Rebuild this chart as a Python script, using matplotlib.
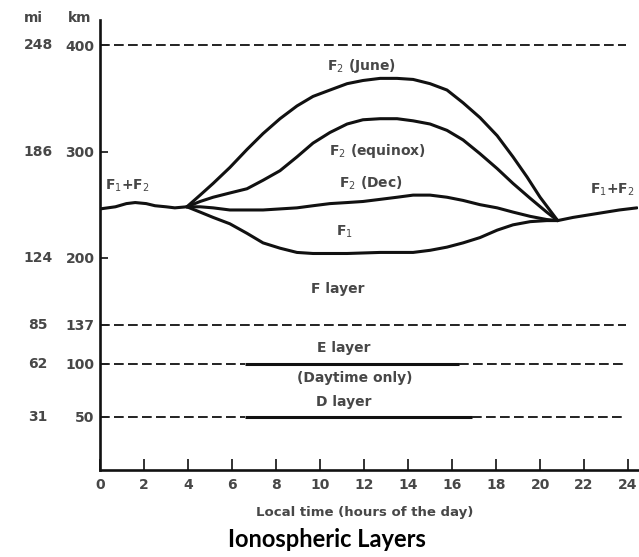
import matplotlib
matplotlib.use('Agg')
import matplotlib.pyplot as plt
from matplotlib.transforms import blended_transform_factory

# local time (hours) and height (km)
june_h = [3.95, 4.55, 5.14, 5.9, 6.68, 7.41, 8.18, 8.95, 9.68, 10.45, 11.23, 11.95,
          12.73, 13.5, 14.23, 15.0, 15.77, 16.5, 17.27, 18.05, 18.77, 19.41, 20.0, 20.8]
june_km = [248, 259, 270, 285, 302, 317, 331, 343, 352, 358, 364, 367,
           369, 369, 368, 364, 358, 346, 332, 315, 295, 276, 257, 235]

equinox_h = [3.95, 4.55, 5.14, 5.9, 6.68, 7.41, 8.18, 8.95, 9.68, 10.45, 11.23, 11.95,
             12.73, 13.5, 14.23, 15.0, 15.77, 16.5, 17.27, 18.05, 18.77, 19.55, 20.3, 20.8]
equinox_km = [248, 253, 257, 261, 265, 273, 282, 295, 308, 318, 326, 330,
              331, 331, 329, 326, 320, 311, 298, 284, 270, 256, 243, 235]

dec_h = [3.95, 4.55, 5.14, 5.9, 6.68, 7.41, 8.18, 8.95, 9.68, 10.45, 11.23, 11.95,
         12.73, 13.5, 14.23, 15.0, 15.77, 16.5, 17.27, 18.05, 18.77, 19.55, 20.3, 20.8]
dec_km = [248, 248, 247, 245, 245, 245, 246, 247, 249, 251, 252, 253,
          255, 257, 259, 259, 257, 254, 250, 247, 243, 239, 236, 235]

f1_h = [3.95, 4.55, 5.14, 5.9, 6.68, 7.41, 8.18, 8.95, 9.68, 11.23, 12.73, 14.23,
        15.0, 15.77, 16.5, 17.27, 18.05, 18.77, 19.55, 20.3, 20.8]
f1_km = [248, 243, 238, 232, 223, 214, 209, 205, 204, 204, 205, 205,
         207, 210, 214, 219, 226, 231, 234, 235, 235]

night_left_h = [0, 0.7, 1.2, 1.6, 2.1, 2.5, 3.0, 3.4, 3.95]
night_left_km = [246, 248, 251, 252, 251, 249, 248, 247, 248]
night_right_h = [20.8, 21.5, 22.7, 23.6, 24.4]
night_right_km = [235, 238, 242, 245, 247]

km_ticks = [400, 300, 200, 137, 100, 50]
mi_labels = ['248', '186', '124', '85', '62', '31']
hour_ticks = [0, 2, 4, 6, 8, 10, 12, 14, 16, 18, 20, 22, 24]

# E and D layer boundaries: daytime (solid) span
e_km, e_day = 100, (6.6, 16.3)
d_km, d_day = 50, (6.6, 16.9)

txt = '#474747'

fig = plt.figure(figsize=(6.39, 5.57), dpi=100)
ax = fig.add_axes([100 / 639, 87 / 557, 538 / 639, 450 / 557])
ax.set_xlim(0, 24.45)
ax.set_ylim(0, 424)

for s in ['top', 'right']:
    ax.spines[s].set_visible(False)
for s in ['left', 'bottom']:
    ax.spines[s].set_linewidth(1.9)
    ax.spines[s].set_color('#111')

dash = (0, (5, 2.2))
ax.hlines([400, 137], 0, 23.9, colors='#222', lw=1.4, linestyle=dash)
for km, (a, b) in [(e_km, e_day), (d_km, d_day)]:
    ax.hlines(km, 0, a, colors='#222', lw=1.4, linestyle=dash)
    ax.hlines(km, a, b, colors='#111', lw=2.2)
    ax.hlines(km, b, 23.9, colors='#222', lw=1.4, linestyle=dash)

curve = dict(color='#111', lw=2.2, solid_joinstyle='round', solid_capstyle='round')
ax.plot(june_h, june_km, **curve)
ax.plot(equinox_h, equinox_km, **curve)
ax.plot(dec_h, dec_km, **curve)
ax.plot(f1_h, f1_km, **curve)
ax.plot(night_left_h, night_left_km, **curve)
ax.plot(night_right_h, night_right_km, **curve)

ax.set_xticks(hour_ticks)
ax.set_xticklabels([str(h) for h in hour_ticks])
ax.set_yticks(km_ticks)
ax.set_yticklabels([str(k) for k in km_ticks])
ax.tick_params(axis='x', direction='in', length=8, width=1.3, color='#222',
               labelsize=10, labelcolor=txt, pad=6)
ax.tick_params(axis='y', direction='in', length=6, width=1.3, color='#222',
               labelsize=10, labelcolor=txt, pad=4)
for lab in ax.get_xticklabels() + ax.get_yticklabels():
    lab.set_fontweight('bold')

# miles column
tr = blended_transform_factory(ax.transAxes, ax.transData)
for km, mi in zip(km_ticks, mi_labels):
    ax.text(-0.115, km, mi, transform=tr, ha='center', va='center',
            fontsize=10, fontweight='bold', color=txt)
fig.text(33 / 639, 0.968, 'mi', ha='center', va='center',
         fontsize=10, fontweight='bold', color=txt)
fig.text(80 / 639, 0.968, 'km', ha='center', va='center',
         fontsize=10, fontweight='bold', color=txt)

lab = dict(ha='center', va='center', fontsize=10, fontweight='bold', color=txt)
ax.text(11.9, 381, r'F$_2$ (June)', **lab)
ax.text(12.6, 301, r'F$_2$ (equinox)', **lab)
ax.text(12.3, 270, r'F$_2$ (Dec)', **lab)
ax.text(11.1, 224, r'F$_1$', **lab)
ax.text(1.25, 268, r'F$_1$+F$_2$', **lab)
ax.text(23.3, 264, r'F$_1$+F$_2$', **lab)
ax.text(10.8, 171, 'F layer', **lab)
ax.text(11.1, 115, 'E layer', **lab)
ax.text(11.6, 87, '(Daytime only)', **lab)
ax.text(11.1, 64, 'D layer', **lab)

ax.set_xlabel('Local time (hours of the day)', fontsize=9.5, fontweight='bold',
              color=txt)
ax.xaxis.set_label_coords(0.492, -0.08)

fig.text(0.512, 0.031, 'Ionospheric Layers', ha='center', va='center',
         fontsize=17, fontweight='bold', family='Lato', color='black')

fig.savefig('out.png', dpi=100)
